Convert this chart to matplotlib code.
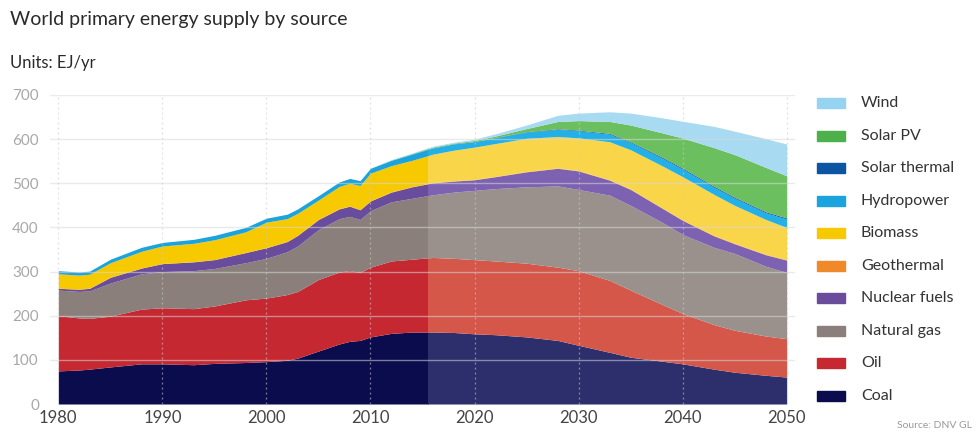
import numpy as np
import matplotlib.pyplot as plt
from matplotlib.patches import Rectangle

plt.rcParams['font.family'] = ['Lato', 'DejaVu Sans']

years = [1980, 1982, 1983, 1985, 1988, 1990, 1993, 1995, 1998, 2000, 2002, 2003,
         2005, 2007, 2008, 2009, 2010, 2012, 2014, 2016, 2018, 2020, 2022, 2025,
         2028, 2030, 2033, 2035, 2038, 2040, 2043, 2045, 2048, 2050]

# EJ/yr per source
coal = [75, 77, 79, 84, 91, 91, 89, 92, 94, 96, 99, 104,
        120, 136, 142, 144, 152, 160, 163, 163, 162, 159, 157, 152,
        144, 133, 117, 106, 97, 91, 79, 72, 65, 61]
oil = [125, 118, 115, 115, 124, 127, 127, 130, 142, 144, 149, 151,
       162, 163, 160, 154, 158, 164, 165, 169, 168, 168, 167, 167,
       166, 169, 163, 152, 129, 114, 101, 95, 89, 87]
natural_gas = [58, 60, 62, 75, 80, 82, 86, 85, 84, 90, 97, 103,
               113, 121, 123, 120, 128, 134, 138, 142, 150, 157, 164, 173,
               184, 184, 193, 192, 186, 179, 175, 174, 158, 150]
nuclear = [4, 5, 6, 13, 13, 18, 20, 20, 23, 24, 23, 24,
           23, 22, 23, 22, 22, 22, 26, 27, 25, 24, 27, 34,
           40, 42, 34, 36, 32, 32, 26, 22, 26, 28]
geothermal = [0.2, 0.2, 0.2, 0.3, 0.3, 0.3, 0.4, 0.4, 0.4, 0.5, 0.5, 0.5,
              0.5, 0.6, 0.6, 0.6, 0.6, 0.7, 0.7, 0.7, 0.8, 0.8, 0.8, 0.9,
              0.9, 1.0, 1.0, 1.0, 1.1, 1.1, 1.1, 1.2, 1.2, 1.2]
biomass = [32.8, 31.8, 31.8, 32.7, 37.7, 39.7, 41.6, 44.6, 46.6, 57.5, 51.5, 49.5,
           43.5, 50.4, 51.4, 54.4, 62.4, 59.3, 59.3, 64.3, 69.2, 73.2, 74.2, 75.1,
           71.1, 74, 86, 89, 94.9, 97.9, 92.9, 85.8, 78.8, 72.8]
hydropower = [7, 7, 7, 8, 9, 8, 9, 10, 10, 9, 10, 10,
              10, 10, 11, 11, 11, 12, 14, 14, 14, 12, 13, 14,
              16, 16, 17, 16, 17, 17, 16, 16, 15, 19]
solar_thermal = [0, 0, 0, 0, 0, 0, 0, 0, 0, 0, 0, 0,
                 0, 0, 0, 0, 0, 0, 0, 0.3, 0.5, 0.5, 0.8, 1,
                 1.5, 1.5, 2, 2, 2.5, 2.5, 2.5, 2.5, 2.5, 2.5]
solar_pv = [0, 0, 0, 0, 0, 0, 0, 0, 0, 0, 0, 0,
            0, 0, 0, 0, 0, 0.5, 1, 1.7, 1.5, 2.5, 3.2, 7,
            16.5, 21.5, 27, 38, 55, 68, 87.5, 96.5, 100.5, 95.5]
wind = [0, 0, 0, 0, 0, 0, 0, 0, 0, 0, 0, 0,
        0, 0, 0, 0, 0.5, 1, 1.5, 2, 2, 3, 5, 8,
        14, 17, 22, 27, 34, 38, 48, 53, 65, 72]

sources = ['Coal', 'Oil', 'Natural gas', 'Nuclear fuels', 'Geothermal',
           'Biomass', 'Hydropower', 'Solar thermal', 'Solar PV', 'Wind']
series = [coal, oil, natural_gas, nuclear, geothermal,
          biomass, hydropower, solar_thermal, solar_pv, wind]
dark = ['#0b0c4e', '#c62832', '#8a7f7a', '#6a4c9c', '#f0892a',
        '#f7c900', '#1aa3dd', '#0b55a3', '#4db04a', '#95d3f0']
light = ['#2c2f6b', '#d4574a', '#9a918d', '#7c62b0', '#f5a050',
         '#f9d54a', '#22b0e6', '#1a5fae', '#6cbf5f', '#a8daf2']
split = 2015.5

fig = plt.figure(figsize=(9.76, 4.33), dpi=100)
ax = fig.add_axes([50 / 976, 29 / 433, 745 / 976, 309 / 433])

x = np.array(years, dtype=float)
base = np.zeros(len(years))
for vals, c_hist, c_fut in zip(series, dark, light):
    top = base + np.array(vals, dtype=float)
    h = ax.fill_between(x, base, top, color=c_hist, lw=0, zorder=2)
    h.set_clip_path(Rectangle((1970, -50), split - 1970, 900, transform=ax.transData))
    f = ax.fill_between(x, base, top, color=c_fut, lw=0, zorder=2)
    f.set_clip_path(Rectangle((split, -50), 60, 900, transform=ax.transData))
    base = top

ax.set_xlim(1979.2, 2050.8)
ax.set_ylim(0, 700)
ax.set_yticks(range(0, 701, 100))
ax.set_xticks(range(1980, 2051, 10))
for yv in range(100, 701, 100):
    ax.axhline(yv, color='#d9d9d9', lw=1.0, alpha=0.55, zorder=3)
for xv in range(1980, 2051, 10):
    ax.axvline(xv, color='#cccccc', lw=0.9, ls=(0, (1.5, 2.5)), alpha=0.6, zorder=3)

for s in ax.spines.values():
    s.set_visible(False)
ax.tick_params(axis='y', length=0, pad=8, labelsize=11, labelcolor='#a8a8a8')
ax.tick_params(axis='x', length=0, pad=4, labelsize=12, labelcolor='#444444')

fig.text(10 / 976, 1 - 20 / 433, 'World primary energy supply by source',
         fontsize=14, color='#2a2a2a', va='center', ha='left')
fig.text(10 / 976, 1 - 63 / 433, 'Units: EJ/yr', fontsize=12, color='#2a2a2a',
         va='center', ha='left')

# legend, top row is the top of the stack
row_y = np.linspace(103, 396, len(sources))
for i, (name, c) in enumerate(zip(sources[::-1], dark[::-1])):
    yc = 1 - row_y[i] / 433
    fig.patches.append(Rectangle((817 / 976, yc - 5 / 433), 28 / 976, 10 / 433,
                                 transform=fig.transFigure, color=c))
    fig.text(861 / 976, yc, name, fontsize=11.5, color='#333333', va='center', ha='left')

fig.text(972 / 976, 1 - 425 / 433, 'Source: DNV GL', fontsize=7.5, color='#9a9a9a',
         va='center', ha='right')

fig.savefig('out.png', dpi=100)
